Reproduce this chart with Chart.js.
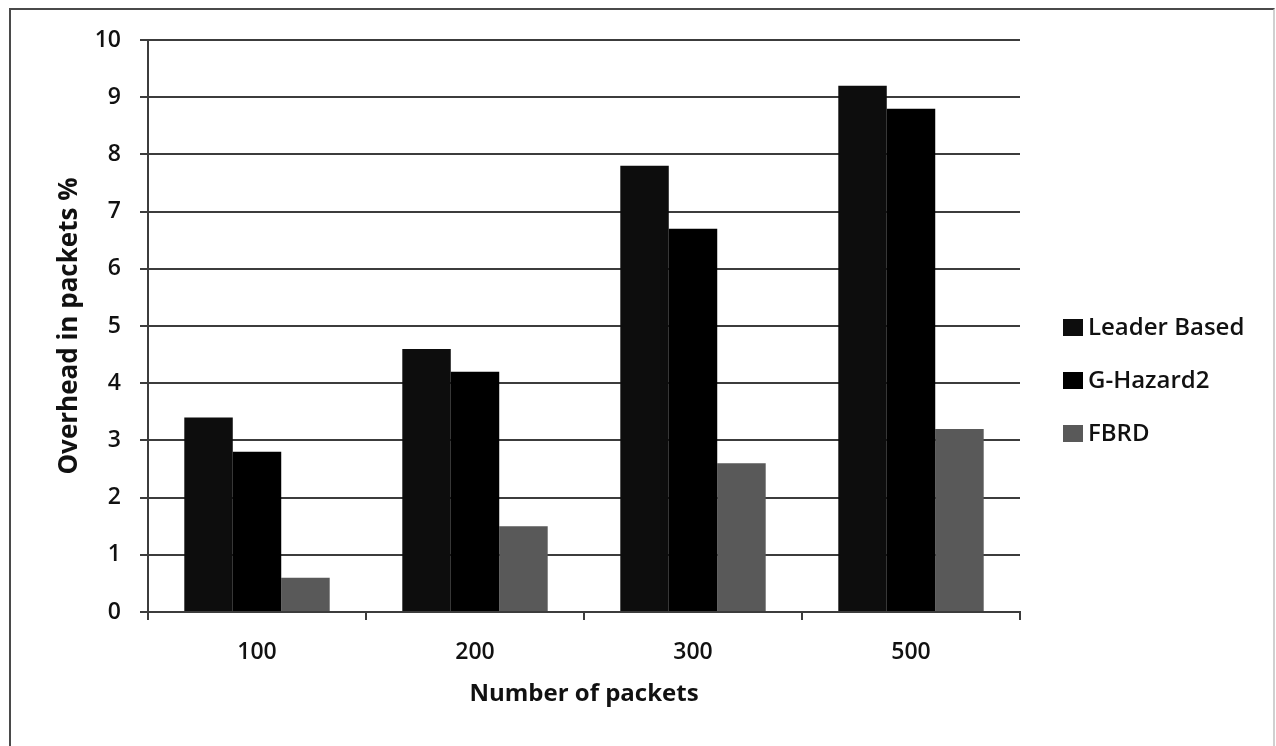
<!DOCTYPE html>
<html>
<head>
<meta charset="utf-8">
<script src="https://cdn.jsdelivr.net/npm/chart.js@4.4.1/dist/chart.umd.min.js"></script>
<style>
    body { margin: 0; background: #fff; }
    #wrap { position: relative; width: 1276px; height: 746px; overflow: hidden; }
    #frame { position: absolute; left: 9px; top: 8px; width: 1266px; height: 760px; border: 2px solid #4a4a4a; border-right-color: #d0d0d0; box-sizing: border-box; }
    #legend { position: absolute; left: 1063px; top: 311px; font-family: 'Open Sans', sans-serif; font-size: 24px; font-weight: 600; color: #111; }
    #legend div { height: 53px; line-height: 30px; white-space: nowrap; }
    #legend span { display: inline-block; width: 20px; height: 17px; margin-right: 5px; vertical-align: -1px; }
</style>
</head>
<body>
<div id="wrap">
    <div id="frame"></div>
    <canvas id="overhead-chart" width="1276" height="746"></canvas>
    <div id="legend"></div>
</div>
<script>
    var categories = ['100', '200', '300', '500'];
    var seriesNames = ['Leader Based', 'G-Hazard2', 'FBRD'];
    var leaderBased = [3.4, 4.6, 7.8, 9.2];
    var gHazard2 = [2.8, 4.2, 6.7, 8.8];
    var fbrd = [0.6, 1.5, 2.6, 3.2];
    var seriesColors = ['#0d0d0d', '#000000', '#595959'];

    var tickFont = { family: 'Open Sans', size: 23, weight: '600' };
    var lineColor = '#3c3c3c';

    var values = [leaderBased, gHazard2, fbrd];
    var datasets = seriesNames.map(function (name, i) {
        return {
            label: name,
            data: values[i],
            backgroundColor: seriesColors[i],
            categoryPercentage: 0.667,
            barPercentage: 1.0
        };
    });

    // legend drawn as html so it sits where the original one is
    var legend = document.getElementById('legend');
    seriesNames.forEach(function (name, i) {
        var row = document.createElement('div');
        row.innerHTML = '<span style="background:' + seriesColors[i] + '"></span>' + name;
        legend.appendChild(row);
    });

    new Chart(document.getElementById('overhead-chart'), {
        type: 'bar',
        data: {
            labels: categories,
            datasets: datasets
        },
        options: {
            responsive: false,
            animation: false,
            layout: {
                padding: { top: 40, right: 256, left: 0, bottom: 0 }
            },
            plugins: {
                legend: { display: false },
                tooltip: { enabled: false }
            },
            scales: {
                x: {
                    grid: {
                        display: true,
                        drawOnChartArea: false,
                        color: lineColor,
                        lineWidth: 2,
                        tickLength: 8
                    },
                    border: { color: lineColor, width: 2 },
                    ticks: { font: tickFont, color: '#111', padding: 19 },
                    title: {
                        display: true,
                        text: 'Number of packets',
                        font: { family: 'Open Sans', size: 24, weight: 'bold' },
                        color: '#111',
                        padding: { top: 0, bottom: 37 }
                    },
                    afterFit: function (scale) {
                        scale.height = 134;
                    }
                },
                y: {
                    min: 0,
                    max: 10,
                    ticks: { stepSize: 1, font: tickFont, color: '#111', padding: 19 },
                    grid: {
                        color: lineColor,
                        lineWidth: 2,
                        tickLength: 8
                    },
                    border: { color: lineColor, width: 2 },
                    title: {
                        display: true,
                        text: 'Overhead in packets %',
                        font: { family: 'Open Sans', size: 26, weight: 'bold' },
                        color: '#111',
                        padding: { top: 54, bottom: 0 }
                    },
                    afterFit: function (scale) {
                        scale.width = 148;
                    }
                }
            }
        }
    });
</script>
</body>
</html>
